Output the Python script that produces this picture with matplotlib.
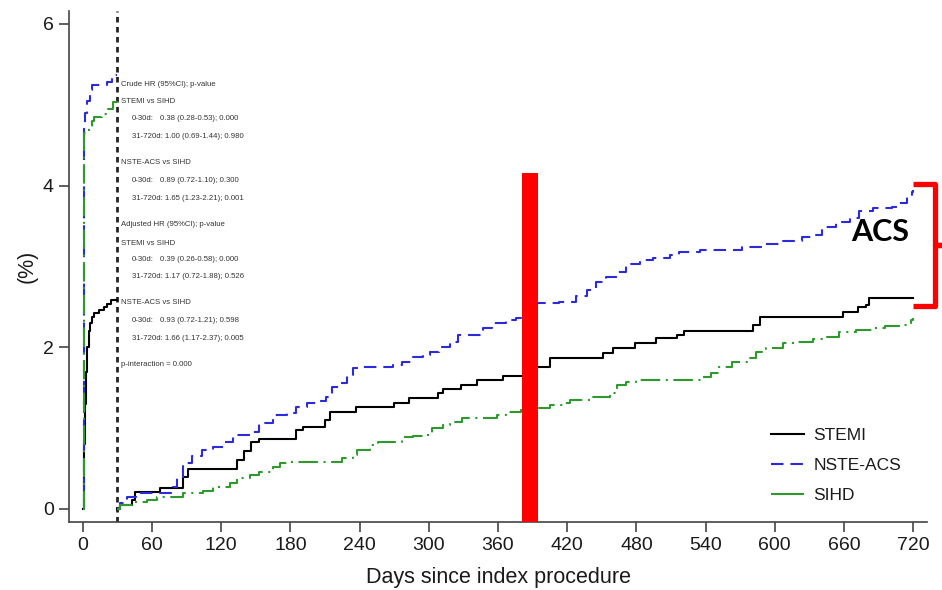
import numpy as np
import matplotlib
matplotlib.use("Agg")
import matplotlib.pyplot as plt
from matplotlib.patches import Rectangle
from matplotlib.lines import Line2D

plt.rcParams['font.family'] = ['Liberation Sans', 'DejaVu Sans']

# ---- data (days, cumulative %) ----
# 0-30 day landmark
stemi_early_days = [0, 1, 2, 3, 4, 5, 6, 8, 10, 14, 18, 21, 24, 30]
stemi_early_vals = [0, 0.8, 1.3, 1.7, 2.0, 2.2, 2.3, 2.38, 2.42, 2.46, 2.5, 2.53, 2.59, 2.59]
nste_early_days = [0, 1, 2, 4, 6, 8, 21, 25, 28, 30]
nste_early_vals = [0, 4.75, 4.9, 5.05, 5.18, 5.25, 5.28, 5.33, 5.37, 5.37]
sihd_early_days = [0, 1, 5, 8, 10, 17, 22, 26, 30]
sihd_early_vals = [0, 4.65, 4.72, 4.8, 4.85, 4.88, 4.95, 5.03, 5.05]

# 31-720 day landmark
stemi_late_days = [30, 32, 43, 45, 67, 87, 91, 134, 140, 146, 153, 185, 191, 210, 214, 237,
                   270, 283, 308, 312, 328, 342, 364, 385, 405, 451, 460, 479, 497, 515, 521,
                   581, 587, 659, 672, 679, 682, 720]
stemi_late_vals = [0, 0.05, 0.11, 0.21, 0.26, 0.4, 0.5, 0.6, 0.72, 0.83, 0.86, 0.98, 1.02, 1.1,
                   1.2, 1.26, 1.31, 1.37, 1.43, 1.48, 1.53, 1.6, 1.65, 1.76, 1.87, 1.93, 1.99,
                   2.05, 2.12, 2.15, 2.2, 2.28, 2.38, 2.44, 2.5, 2.52, 2.61, 2.61]
nste_late_days = [30, 32, 38, 46, 78, 82, 87, 95, 103, 113, 122, 130, 145, 153, 165, 177, 185,
                  194, 205, 211, 216, 223, 229, 234, 240, 263, 269, 277, 286, 295, 301, 309,
                  318, 325, 341, 347, 355, 367, 376, 380, 390, 413, 428, 437, 445, 454, 463,
                  471, 483, 494, 509, 517, 535, 561, 572, 589, 607, 624, 634, 641, 653, 665,
                  673, 685, 702, 708, 715, 719, 720]
nste_late_vals = [0, 0.07, 0.15, 0.2, 0.27, 0.4, 0.57, 0.65, 0.73, 0.77, 0.83, 0.92, 0.95, 1.06,
                  1.16, 1.19, 1.26, 1.31, 1.33, 1.39, 1.51, 1.56, 1.66, 1.74, 1.76, 1.76, 1.78,
                  1.82, 1.88, 1.91, 1.94, 2.0, 2.07, 2.15, 2.15, 2.24, 2.3, 2.34, 2.36, 2.4,
                  2.55, 2.56, 2.63, 2.71, 2.81, 2.87, 2.93, 3.03, 3.08, 3.1, 3.14, 3.18, 3.2,
                  3.2, 3.24, 3.28, 3.32, 3.37, 3.39, 3.49, 3.55, 3.6, 3.68, 3.72, 3.74, 3.79,
                  3.86, 3.92, 3.95]
sihd_late_days = [30, 32, 45, 56, 64, 87, 104, 113, 128, 134, 145, 153, 165, 171, 179, 225, 234,
                  238, 249, 256, 277, 286, 295, 303, 312, 318, 329, 359, 367, 380, 393, 405,
                  416, 422, 442, 457, 463, 471, 480, 537, 545, 552, 563, 578, 584, 592, 607,
                  618, 633, 644, 656, 670, 685, 696, 708, 718, 720]
sihd_late_vals = [0, 0.05, 0.09, 0.11, 0.15, 0.2, 0.22, 0.27, 0.32, 0.38, 0.42, 0.46, 0.52, 0.57,
                  0.58, 0.63, 0.67, 0.73, 0.79, 0.83, 0.89, 0.9, 0.92, 1.0, 1.04, 1.08, 1.13,
                  1.16, 1.2, 1.22, 1.25, 1.29, 1.31, 1.35, 1.39, 1.43, 1.53, 1.57, 1.6, 1.63,
                  1.68, 1.76, 1.82, 1.87, 1.94, 1.99, 2.05, 2.07, 2.1, 2.13, 2.19, 2.22, 2.24,
                  2.26, 2.28, 2.34, 2.36]

series_names = ['STEMI', 'NSTE-ACS', 'SIHD']
x_ticks = list(range(0, 721, 60))
y_ticks = [0, 2, 4, 6]
landmark_day = 30

hr_lines = [
    ('head', 'Crude HR (95%CI); p-value'),
    ('head', 'STEMI vs SIHD'),
    ('d30', '0-30d:', '0.38 (0.28-0.53); 0.000'),
    ('d720', '31-720d: 1.00 (0.69-1.44); 0.980'),
    ('head', 'NSTE-ACS vs SIHD'),
    ('d30', '0-30d:', '0.89 (0.72-1.10); 0.300'),
    ('d720', '31-720d: 1.65 (1.23-2.21); 0.001'),
    ('head', 'Adjusted HR (95%CI); p-value'),
    ('head', 'STEMI vs SIHD'),
    ('d30', '0-30d:', '0.39 (0.26-0.58); 0.000'),
    ('d720', '31-720d: 1.17 (0.72-1.88); 0.526'),
    ('head', 'NSTE-ACS vs SIHD'),
    ('d30', '0-30d:', '0.93 (0.72-1.21); 0.598'),
    ('d720', '31-720d: 1.66 (1.17-2.37); 0.005'),
    ('head', 'p-interaction = 0.000'),
]
hr_y_px = [84, 102, 119, 137, 163, 181, 198, 225, 243, 260, 277, 303, 321, 339, 364]

# ---- figure ----
W, H = 942, 590
fig = plt.figure(figsize=(W / 100, H / 100), dpi=100)
ax = fig.add_axes([69 / W, 1 - 522 / H, (927 - 69) / W, (522 - 11) / H])

blue = '#2b2bdc'
green = '#2e9a2e'
lw = 1.5

def px(x, y):
    return (x / W, 1 - y / H)

l1, = ax.plot(stemi_early_days, stemi_early_vals, drawstyle='steps-post', color='black', lw=lw)
ax.plot(stemi_late_days, stemi_late_vals, drawstyle='steps-post', color='black', lw=lw)

l2, = ax.plot(nste_early_days, nste_early_vals, drawstyle='steps-post', color=blue, lw=lw,
              dashes=(9 / lw, 5 / lw))
ax.plot(nste_late_days, nste_late_vals, drawstyle='steps-post', color=blue, lw=lw,
        dashes=(9 / lw, 5 / lw))

l3, = ax.plot(sihd_early_days, sihd_early_vals, drawstyle='steps-post', color=green, lw=lw,
              dashes=(14 / lw, 4 / lw, 1.5 / lw, 4 / lw))
ax.plot(sihd_late_days, sihd_late_vals, drawstyle='steps-post', color=green, lw=lw,
        dashes=(14 / lw, 4 / lw, 1.5 / lw, 4 / lw))

ax.axvline(landmark_day, color='#222222', lw=2, dashes=(2, 1.6), zorder=1)

ax.set_xlim(-12, 732)
ax.set_ylim(-0.161, 6.16)
ax.set_xticks(x_ticks)
ax.set_yticks(y_ticks)
for s in ['top', 'right']:
    ax.spines[s].set_visible(False)
for s in ['left', 'bottom']:
    ax.spines[s].set_color('#444444')
    ax.spines[s].set_linewidth(1.2)
ax.tick_params(axis='both', labelsize=14, colors='#444444', labelcolor='#1a1a1a',
               length=7, width=1.2, pad=4)
ax.set_xlabel('Days since index procedure', fontsize=15.5, color='#1a1a1a', labelpad=9)
ax.set_ylabel('(%)', fontsize=15.5, color='#1a1a1a', labelpad=4)

leg = ax.legend([l1, l2, l3], series_names, loc='upper left', bbox_to_anchor=px(755, 412),
                bbox_transform=fig.transFigure, frameon=False, fontsize=12.5,
                handlelength=1.9, handletextpad=0.55, labelspacing=0.85)
for t in leg.get_texts():
    t.set_color('#1a1a1a')
# short legend handle for SIHD shows only the long dash
leg.legend_handles[2].set_dashes((30, 1))

# hazard ratio notes
for item, yp in zip(hr_lines, hr_y_px):
    if item[0] == 'head':
        fig.text(*px(121, yp), item[1], fontsize=5.6, color='#333333', va='center')
    elif item[0] == 'd30':
        fig.text(*px(132, yp), item[1], fontsize=5.6, color='#333333', va='center')
        fig.text(*px(160, yp), item[2], fontsize=5.6, color='#333333', va='center')
    else:
        fig.text(*px(132, yp), item[1], fontsize=5.6, color='#333333', va='center')

# red marker bar and bracket
ax.add_patch(Rectangle((381, -0.161), 14, 4.16 + 0.161, color='#ff0000', zorder=10,
                       clip_on=False, lw=0))
bx = [913, 935, 935, 942, 935, 935, 913]
by = [184, 184, 245, 245, 245, 306, 306]
fig.add_artist(Line2D([b / W for b in bx], [1 - b / H for b in by], color='#ff0000', lw=3.8,
                      solid_joinstyle='round', solid_capstyle='butt'))
fig.text(*px(880, 232), 'ACS', fontsize=22, fontweight='bold', family=['Lato', 'DejaVu Sans'],
         ha='center', va='center', color='black')

fig.savefig('out.png', dpi=100)
